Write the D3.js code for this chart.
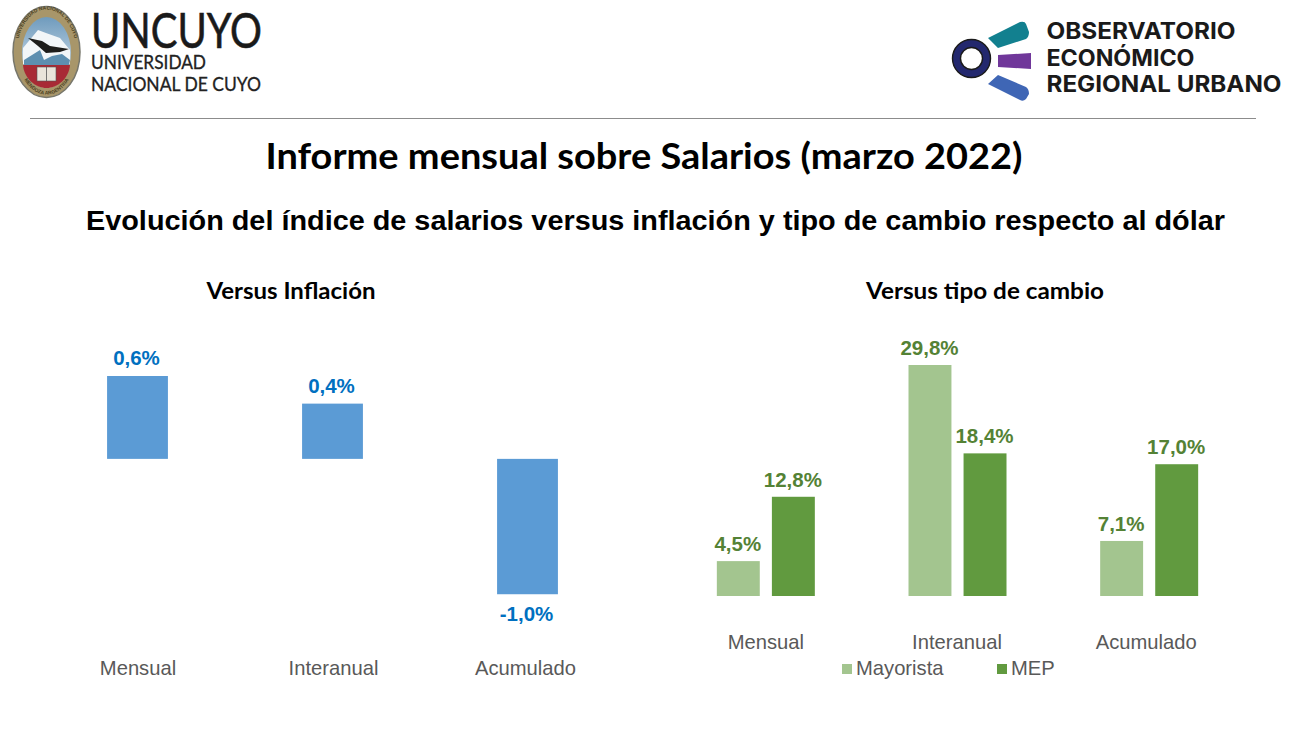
<!DOCTYPE html>
<html><head><meta charset="utf-8">
<script src="https://cdnjs.cloudflare.com/ajax/libs/d3/7.8.5/d3.min.js"></script>
<style>html,body{margin:0;padding:0;background:#fff}svg{display:block}</style></head>
<body><svg id="c" width="1296" height="729"></svg>
<script>
const leftCats = ["Mensual","Interanual","Acumulado"];
const leftValues = [0.6,0.4,-0.98];
const leftLabels = ["0,6%","0,4%","-1,0%"];
const rightCats = ["Mensual","Interanual","Acumulado"];
const seriesNames = ["Mayorista","MEP"];
const mayorista = [4.5,29.8,7.1];
const mep = [12.8,18.4,17.0];
const mayoristaLabels = ["4,5%","29,8%","7,1%"];
const mepLabels = ["12,8%","18,4%","17,0%"];
const C = {blue:"#5b9bd5",blueT:"#0070c0",light:"#a3c58f",dark:"#619a3f",greenT:"#548235",grey:"#595959"};
const SANS='"Liberation Sans",Arial,sans-serif';

const svg = d3.select("#c");
const txt=(x,y,s,o={})=>{const t=svg.append("text").attr("x",x).attr("y",y).attr("text-anchor",o.a||"middle")
  .attr("font-size",o.fs||16).attr("font-weight",o.w||"normal").attr("fill",o.c||"#000")
  .style("font-family",o.f||SANS).text(s);
  if(o.tl) t.attr("textLength",o.tl).attr("lengthAdjust","spacingAndGlyphs");
  return t;};

/* ---- UNCUYO logo ---- */
const defs=svg.append("defs");
const sky=defs.append("linearGradient").attr("id","sky").attr("x1",0).attr("y1",0).attr("x2",0).attr("y2",1);
sky.append("stop").attr("offset",0).attr("stop-color","#6f9bbd");
sky.append("stop").attr("offset",1).attr("stop-color","#e6eef3");
defs.append("path").attr("id","arcT").attr("d","M17.5 58 C15 30 30 9.5 46.5 9.5 C63 9.5 78 30 75.5 58");
defs.append("path").attr("id","arcB").attr("d","M21 74 C29 90 38 94.5 46.5 94.5 C55 94.5 64 90 72 74");
const L=svg.append("g");
L.append("ellipse").attr("cx",46.5).attr("cy",52).attr("rx",33.5).attr("ry",45.5).attr("fill","#a8966a").attr("stroke","#77776c").attr("stroke-width",1.5);
L.append("ellipse").attr("cx",46.5).attr("cy",52.5).attr("rx",24.5).attr("ry",35.5).attr("fill","url(#sky)");
L.append("path").attr("d","M23 48 L38 30 L46 33 L60 38 L70 50 L70 64 L23 64 Z").attr("fill","#f2f6f8");
L.append("path").attr("d","M24 60 L40 50 L44 60 L52 56 L62 54 L70 60 L69 65 L24 65 Z").attr("fill","#5d8fb0");
L.append("path").attr("d","M28 38 L42 41 L50 46 L69 49 L60 52 L46 53 L38 46 Z").attr("fill","#1d1d1b");
L.append("path").attr("d","M23 65 L70 65 C69 78 58 88 46.5 88 C35 88 24 78 23 65 Z").attr("fill","#a82a35");
L.append("rect").attr("x",37).attr("y",67).attr("width",19).attr("height",14).attr("fill","#e9e4da").attr("stroke","#555").attr("stroke-width",.6);
L.append("line").attr("x1",46.5).attr("x2",46.5).attr("y1",67).attr("y2",81).attr("stroke","#555").attr("stroke-width",.8);
[["#arcT","UNIVERSIDAD NACIONAL DE CUYO"],["#arcB","MENDOZA ARGENTINA"]].forEach(([h,s])=>{
  L.append("text").attr("font-size",5).attr("font-weight","bold").attr("fill","#4a3f22").style("font-family",SANS)
   .append("textPath").attr("href",h).attr("startOffset","50%").attr("text-anchor","middle").text(s);
});
txt(91,48,"UNCUYO",{a:"start",fs:48,c:"#1a1a1a",tl:171,f:"Lato"}).attr("stroke","#1a1a1a").attr("stroke-width",.6);
txt(91,69,"UNIVERSIDAD",{a:"start",fs:18.3,c:"#222",tl:115,f:"Lato"}).attr("stroke","#222").attr("stroke-width",.3);
txt(91,91,"NACIONAL DE CUYO",{a:"start",fs:18.3,c:"#222",tl:170,f:"Lato"}).attr("stroke","#222").attr("stroke-width",.3);

/* ---- Observatorio logo ---- */
const R=svg.append("g");
R.append("circle").attr("cx",971.5).attr("cy",58.5).attr("r",15).attr("fill","#fff").attr("stroke","#23286e").attr("stroke-width",8);
R.append("circle").attr("cx",971.5).attr("cy",58.5).attr("r",19).attr("fill","none").attr("stroke","#1a1a1a").attr("stroke-width",1.4);
R.append("circle").attr("cx",971.5).attr("cy",58.5).attr("r",11).attr("fill","none").attr("stroke","#1a1a1a").attr("stroke-width",1.4);
R.append("path").attr("d","M988 38 L1020 22 Q1025 21 1026 24 L1029 32 Q1029 37 1026 39 L998 48 Z").attr("fill","#12808f");
R.append("path").attr("d","M998 55 L1031 53 L1031 69 L998 67 Z").attr("fill","#70379a");
R.append("path").attr("d","M998 75 L1026 87 Q1029 89 1029 94 L1026 99 Q1023 102 1020 100 L988 84 Z").attr("fill","#3f66b5");
const ot=["OBSERVATORIO","ECONÓMICO","REGIONAL URBANO"], otw=[189,148,235];
ot.forEach((s,i)=>txt(1046.5,39+i*26.5,s,{a:"start",fs:23,w:"bold",c:"#1a1a1a",tl:otw[i],f:"Inter"}));

/* ---- Header ---- */
svg.append("line").attr("x1",30).attr("x2",1256).attr("y1",118.5).attr("y2",118.5).attr("stroke","#8c8c8c");
txt(644,169,"Informe mensual sobre Salarios (marzo 2022)",{fs:37,w:"bold",f:"Lato",tl:757});
txt(655.5,230,"Evolución del índice de salarios versus inflación y tipo de cambio respecto al dólar",{fs:27,w:"bold",tl:1139});
txt(291,299,"Versus Inflación",{fs:23,w:"bold",f:"Lato",tl:169});
txt(985,299,"Versus tipo de cambio",{fs:23,w:"bold",f:"Lato",tl:238});

/* ---- Left chart ---- */
const xL=d3.scaleBand().domain(leftCats).range([40,625]).paddingInner(0.688).paddingOuter(0.344);
const yL=d3.scaleLinear().domain([-1,0.6]).range([597,376]);
svg.append("g").selectAll("rect").data(leftValues).join("rect")
 .attr("x",(d,i)=>xL(leftCats[i])).attr("width",xL.bandwidth())
 .attr("y",d=>yL(Math.max(d,0))).attr("height",d=>Math.abs(yL(d)-yL(0))).attr("fill",C.blue);
leftValues.forEach((d,i)=>txt(xL(leftCats[i])+xL.bandwidth()/2-1,d>=0?yL(d)-11:yL(d)+27,leftLabels[i],{fs:20.5,w:"bold",c:C.blueT}));
const axL=svg.append("g").attr("transform","translate(0,675)").call(d3.axisBottom(xL).tickSize(0).tickPadding(0));
axL.select(".domain").remove();
axL.selectAll("text").attr("font-size",20.2).attr("fill",C.grey).attr("dy",0).attr("y",0)
  .attr("dx",(d,i)=>[0.5,1,-2][i]).style("font-family",SANS);

/* ---- Right chart ---- */
const xR=d3.scaleBand().domain(rightCats).range([670,1245]);
const xS=d3.scaleBand().domain(seriesNames).range([-49,49]).paddingInner(0.22);
const yR=d3.scaleLinear().domain([0,29.8]).range([596,365]);
[[mayorista,mayoristaLabels,C.light,0],[mep,mepLabels,C.dark,1]].forEach(([vals,labs,col,k])=>{
  svg.append("g").selectAll("rect").data(vals).join("rect")
   .attr("x",(d,i)=>xR(rightCats[i])+xR.bandwidth()/2+xS(seriesNames[k])).attr("width",xS.bandwidth())
   .attr("y",d=>yR(d)).attr("height",d=>yR(0)-yR(d)).attr("fill",col);
  vals.forEach((d,i)=>txt(xR(rightCats[i])+xR.bandwidth()/2+xS(seriesNames[k])+xS.bandwidth()/2-0.5,yR(d)-10,labs[i],{fs:20.5,w:"bold",c:C.greenT}));
});
const axR=svg.append("g").attr("transform","translate(0,649)").call(d3.axisBottom(xR).tickSize(0).tickPadding(0));
axR.select(".domain").remove();
axR.selectAll("text").attr("font-size",20.2).attr("fill",C.grey).attr("dy",0).attr("y",0)
  .attr("dx",(d,i)=>[0,-0.5,-3][i]).style("font-family",SANS);

/* ---- Legend ---- */
const legX=[841,996],legC=[C.light,C.dark];
seriesNames.forEach((s,i)=>{
  svg.append("rect").attr("x",legX[i]+1).attr("y",664).attr("width",10).attr("height",10).attr("fill",legC[i]);
  txt(legX[i]+15,675,s,{a:"start",fs:20.2,c:C.grey});
});
</script></body></html>
